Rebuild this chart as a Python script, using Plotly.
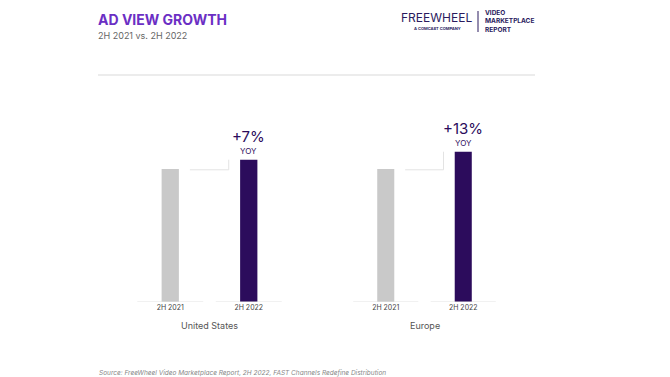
import plotly.graph_objects as go

periods = ["2H 2021", "2H 2022"]
regions = ["United States", "Europe"]
us_values = [100, 107]
eu_values = [100, 113]
growth_labels = ["+7%", "+13%"]

W, H = 670, 377
GRAY = "#c9c9c9"
PURPLE = "#2c0c5c"
LINE = "#e3e3e3"
FONT = "Inter"

fig = go.Figure()
series = [us_values, eu_values]
axes = [("x", "y"), ("x2", "y2")]
for vals, (xa, ya) in zip(series, axes):
    fig.add_trace(go.Bar(
        x=periods, y=vals, xaxis=xa, yaxis=ya,
        marker=dict(color=[GRAY, PURPLE], line=dict(width=0)),
        width=0.22, hoverinfo="skip", showlegend=False,
    ))

ydom = [(H - 302) / H, (H - 75) / H]
yrng = [0, 100 * 227 / 133]
fig.update_layout(
    width=W, height=H,
    margin=dict(l=0, r=0, t=0, b=0),
    paper_bgcolor="white", plot_bgcolor="white",
    font=dict(family=FONT, color="#333"),
    xaxis=dict(domain=[131 / W, 288 / W], range=[-0.5, 1.5], showgrid=False,
               showline=False, zeroline=False, ticks="",
               tickfont=dict(size=7, color="#444"), fixedrange=True),
    xaxis2=dict(domain=[347 / W, 502 / W], range=[-0.5, 1.5], showgrid=False,
                showline=False, zeroline=False, ticks="",
                tickfont=dict(size=7, color="#444"), fixedrange=True),
    yaxis=dict(domain=ydom, range=yrng, visible=False, fixedrange=True),
    yaxis2=dict(domain=ydom, range=yrng, visible=False, anchor="x2", fixedrange=True),
)

shapes = []
annotations = []
for vals, (xa, ya), glabel, region in zip(series, axes, growth_labels, regions):
    # baseline segments under each bar
    for i in range(len(periods)):
        shapes.append(dict(type="line", xref=xa, yref=ya, x0=i - 0.42, x1=i + 0.42,
                           y0=0, y1=0, line=dict(color=LINE, width=1.2)))
    # connector
    shapes.append(dict(type="line", xref=xa, yref=ya, x0=0.25, x1=0.745,
                       y0=vals[0] - 0.6, y1=vals[0] - 0.6, line=dict(color=LINE, width=1)))
    shapes.append(dict(type="line", xref=xa, yref=ya, x0=0.745, x1=0.745,
                       y0=vals[0] - 0.6, y1=vals[1], line=dict(color=LINE, width=1)))
    annotations.append(dict(xref=xa, yref=ya, x=1, y=vals[1], text=glabel,
                            showarrow=False, yanchor="middle", yshift=23,
                            font=dict(size=15, color=PURPLE, family=FONT)))
    annotations.append(dict(xref=xa, yref=ya, x=1, y=vals[1], text="YOY",
                            showarrow=False, yanchor="middle", yshift=9,
                            font=dict(size=8, color=PURPLE, family=FONT)))
    annotations.append(dict(xref=xa + " domain", yref="paper", x=0.5, y=(H - 325) / H,
                            text=region, showarrow=False, yanchor="middle",
                            font=dict(size=9, color="#555", family=FONT)))

# divider line under header
shapes.append(dict(type="line", xref="paper", yref="paper", x0=98 / W, x1=535 / W,
                   y0=(H - 75) / H, y1=(H - 75) / H, line=dict(color="#e6e6e6", width=1.5)))
# logo divider
shapes.append(dict(type="line", xref="paper", yref="paper", x0=478 / W, x1=478 / W,
                   y0=(H - 11) / H, y1=(H - 32) / H, line=dict(color="#2a1a5e", width=1)))

def pa(x, y, text, size, color, anchor="left", bold=False, italic=False):
    if bold:
        text = "<b>" + text + "</b>"
    if italic:
        text = "<i>" + text + "</i>"
    annotations.append(dict(xref="paper", yref="paper", x=x / W, y=(H - y) / H,
                            text=text, showarrow=False, xanchor=anchor, yanchor="middle",
                            align="left", borderpad=0,
                            font=dict(size=size, color=color, family=FONT)))

pa(97, 20, "AD VIEW GROWTH", 14, "#6b2fc4", bold=True)
pa(97, 36, "2H 2021 vs. 2H 2022", 9, "#666")
pa(400, 17, "FREEWHEEL", 12, "#2a1a5e")
pa(437, 28, "A COMCAST COMPANY", 4, "#2a1a5e", anchor="center", bold=True)
pa(484, 21.5, "VIDEO<br>MARKETPLACE<br>REPORT", 6.5, "#2a1a5e", bold=True)
pa(98, 373, "Source: FreeWheel Video Marketplace Report, 2H 2022, FAST Channels Redefine Distribution",
   6.5, "#888", italic=True)

fig.update_layout(shapes=shapes, annotations=annotations)
fig.write_html("out.html", config={"displayModeBar": False},
               post_script="document.body.style.margin='0';")
